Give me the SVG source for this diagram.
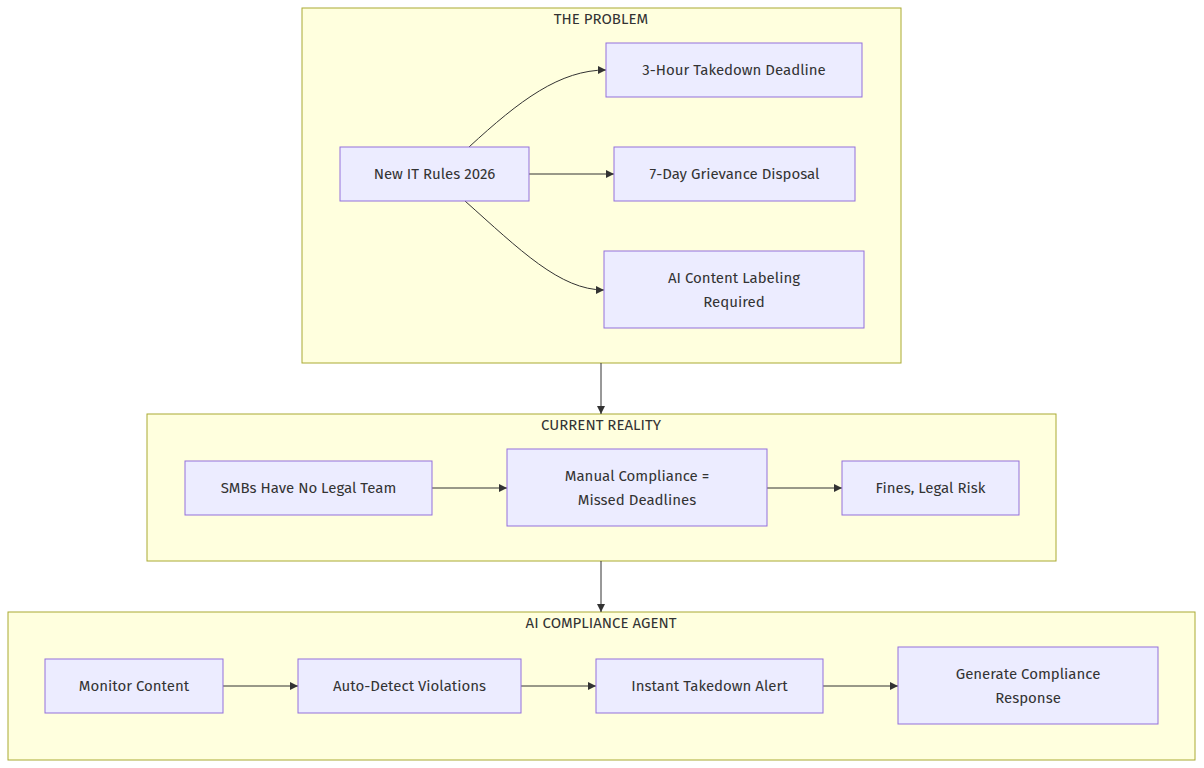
<svg xmlns="http://www.w3.org/2000/svg" width="1204" height="768" viewBox="0 0 1204 768">
<style>
.cl{fill:#ffffde;stroke:#aaaa33;stroke-width:1}
.nd{fill:#ececff;stroke:#9370db;stroke-width:1}
text{font-family:"Fira Sans","Noto Sans","Liberation Sans",sans-serif;font-size:15px;fill:#333;text-anchor:middle;dominant-baseline:central}
.e{fill:none;stroke:#333;stroke-width:1;marker-end:url(#a)}
</style>
<defs><marker id="a" viewBox="0 0 10 10" refX="10" refY="5" markerWidth="8" markerHeight="8" orient="auto"><path d="M0,0L10,5L0,10z" fill="#333"/></marker></defs>
<rect width="1204" height="768" fill="#fff"/>
<g id="c1"><rect class="cl" x="302" y="8" width="599" height="355"/><text x="601" y="19">THE PROBLEM</text></g>
<g id="c2"><rect class="cl" x="147" y="414" width="909" height="147"/><text x="601" y="425">CURRENT REALITY</text></g>
<g id="c3"><rect class="cl" x="8" y="612" width="1187" height="148"/><text x="601" y="623">AI COMPLIANCE AGENT</text></g>
<g id="edges">
<path class="e" d="M469,147C520,100 560,70 606,70"/>
<path class="e" d="M529,174H614"/>
<path class="e" d="M465,201C520,250 560,290 604,290"/>
<path class="e" d="M601,363V414"/>
<path class="e" d="M432,488H507"/>
<path class="e" d="M767,488H842"/>
<path class="e" d="M601,561V612"/>
<path class="e" d="M223,686H298"/>
<path class="e" d="M521,686H596"/>
<path class="e" d="M823,686H898"/>
</g>
<g id="n1"><rect class="nd" x="340" y="147" width="189" height="54"/><text x="434.5" y="174">New IT Rules 2026</text></g>
<g id="n2"><rect class="nd" x="606" y="43" width="256" height="54"/><text x="734" y="70">3-Hour Takedown Deadline</text></g>
<g id="n3"><rect class="nd" x="614" y="147" width="241" height="54"/><text x="734.5" y="174">7-Day Grievance Disposal</text></g>
<g id="n4"><rect class="nd" x="604" y="251" width="260" height="77"/><text x="734" y="278">AI Content Labeling</text><text x="734" y="302">Required</text></g>
<g id="n5"><rect class="nd" x="185" y="461" width="247" height="54"/><text x="308.5" y="488">SMBs Have No Legal Team</text></g>
<g id="n6"><rect class="nd" x="507" y="449" width="260" height="77"/><text x="637" y="476">Manual Compliance =</text><text x="637" y="500">Missed Deadlines</text></g>
<g id="n7"><rect class="nd" x="842" y="461" width="177" height="54"/><text x="930.5" y="488">Fines, Legal Risk</text></g>
<g id="n8"><rect class="nd" x="45" y="659" width="178" height="54"/><text x="134" y="686">Monitor Content</text></g>
<g id="n9"><rect class="nd" x="298" y="659" width="223" height="54"/><text x="409.5" y="686">Auto-Detect Violations</text></g>
<g id="n10"><rect class="nd" x="596" y="659" width="227" height="54"/><text x="709.5" y="686">Instant Takedown Alert</text></g>
<g id="n11"><rect class="nd" x="898" y="647" width="260" height="77"/><text x="1028" y="674">Generate Compliance</text><text x="1028" y="698">Response</text></g>
</svg>
